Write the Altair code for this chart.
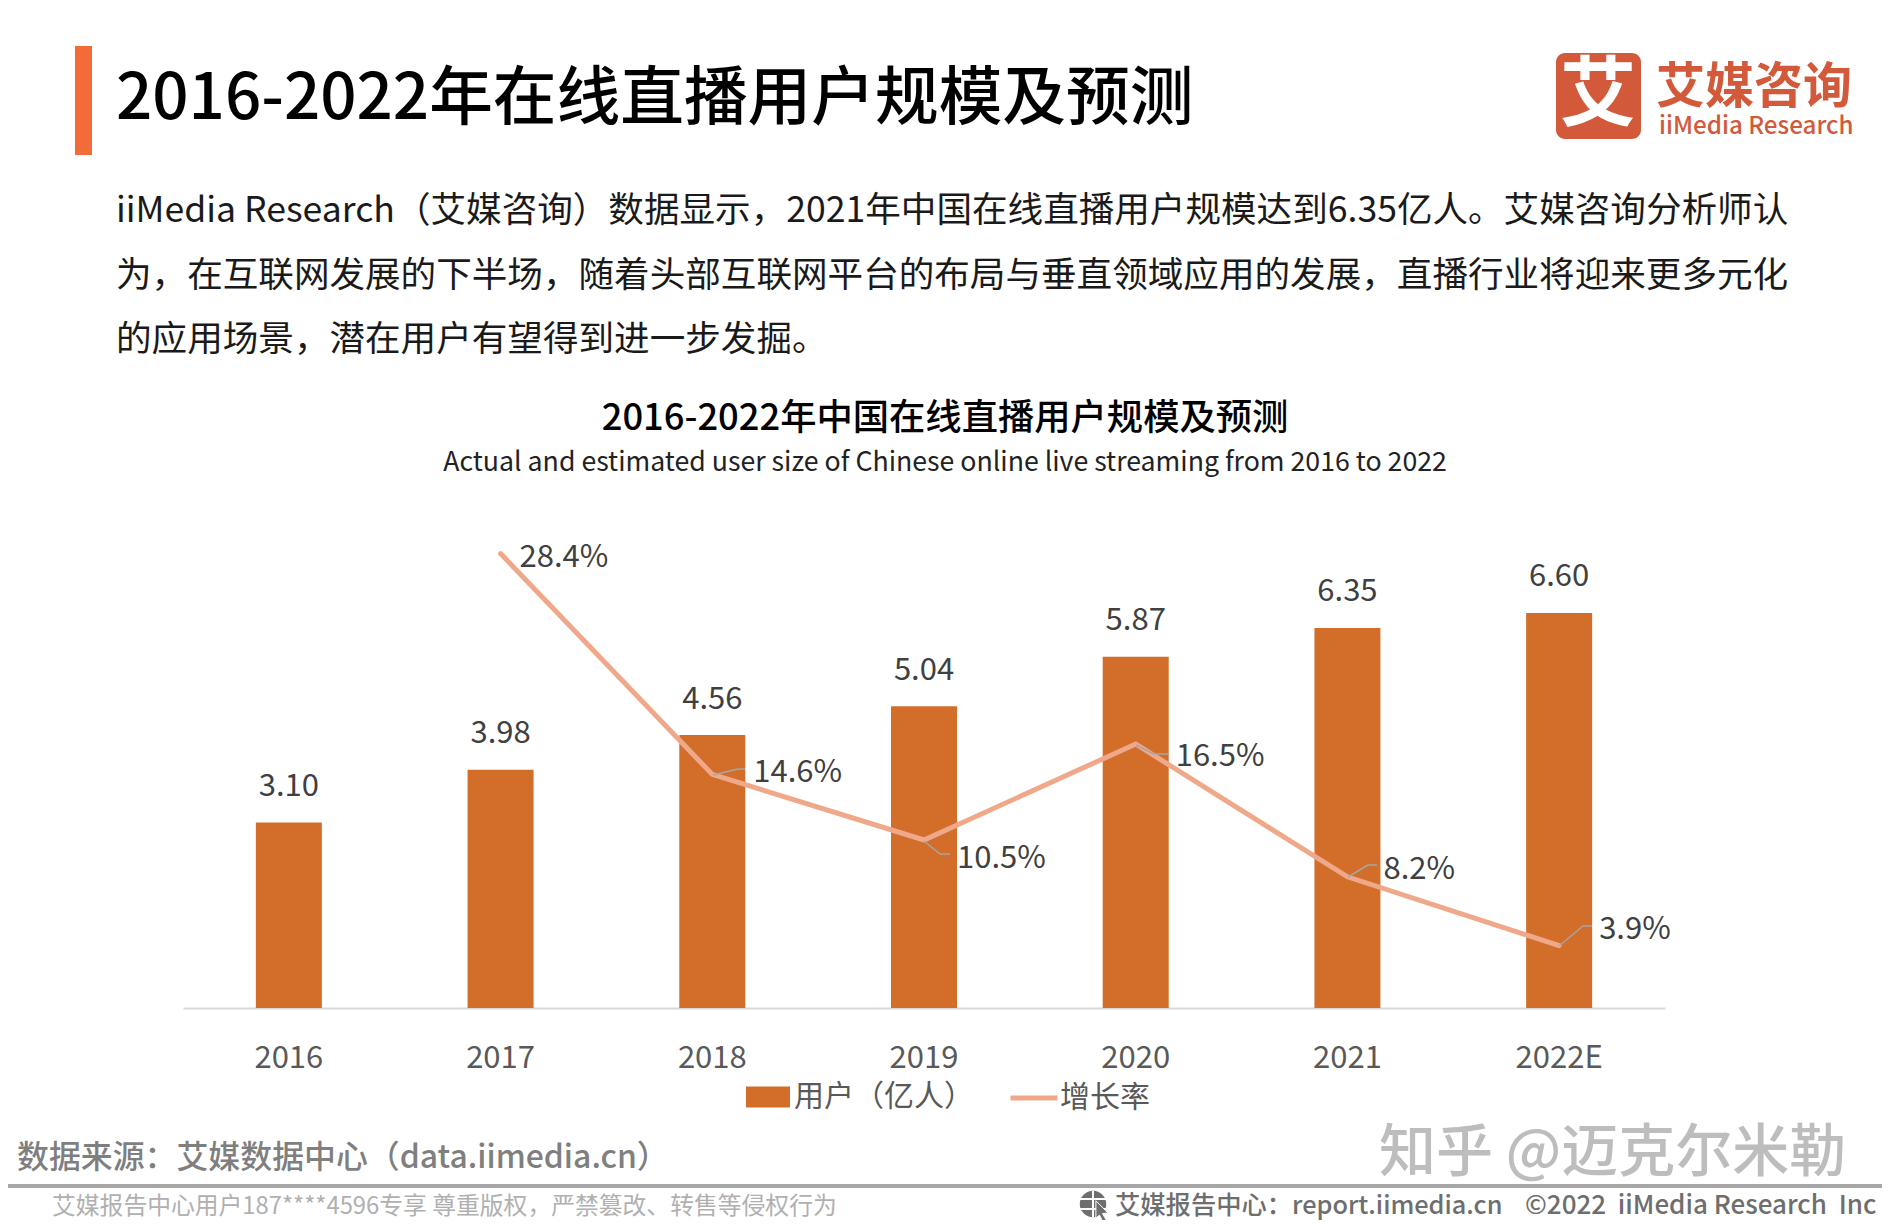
import altair as alt
import pandas as pd

categories = ["2016", "2017", "2018", "2019", "2020", "2021", "2022E"]
users = [3.10, 3.98, 4.56, 5.04, 5.87, 6.35, 6.60]
growth = [None, 0.284, 0.146, 0.105, 0.165, 0.082, 0.039]

FONT = "Noto Sans CJK SC"
M = 8
W, H = 1874, 1212
BAR = "#D26E2A"
LINE = "#EFA98A"
LOGO = "#D2593A"

df = pd.DataFrame({"year": categories, "users": users, "growth": growth})
df["s1"] = "用户（亿人）"
df["s2"] = "增长率"
line_df = df[df["growth"].notna()]
one = pd.DataFrame({"k": [0]})

x_enc = alt.X(
    "year:N", sort=categories, title=None,
    scale=alt.Scale(domain=categories, range=[183 - M, 1665 - M], paddingInner=0, paddingOuter=0),
    axis=alt.Axis(offset=1000 - H, ticks=False, labelAngle=0, labelFont=FONT, labelFontSize=31,
                  labelColor="#595959", labelPadding=35, domainColor="#d9d9d9", domainWidth=2,
                  grid=False),
)
y_users = alt.Y("users:Q", axis=None, scale=alt.Scale(domain=[0, 8.02], range=[1008 - M, 528 - M], nice=False))
y_growth = alt.Y("growth:Q", axis=None, scale=alt.Scale(domain=[0, 0.30], range=[1008 - M, 528 - M], nice=False))


def txt(t, x, y, size, color="#000000", weight=400, align="left", font=FONT):
    return alt.Chart(one).mark_text(font=font, fontSize=size, fontWeight=weight, align=align,
                                    baseline="middle", color=color).encode(
        x=alt.value(x - M), y=alt.value(y - M), text=alt.value(t))


def seg(x1, y1, x2, y2, color="#a6a6a6", width=1.5):
    return alt.Chart(one).mark_rule(color=color, strokeWidth=width).encode(
        x=alt.value(x1 - M), x2=alt.value(x2 - M), y=alt.value(y1 - M), y2=alt.value(y2 - M))


def box(x1, y1, x2, y2, color, radius=0):
    return alt.Chart(one).mark_rect(color=color, cornerRadius=radius).encode(
        x=alt.value(x1 - M), x2=alt.value(x2 - M), y=alt.value(y1 - M), y2=alt.value(y2 - M))


def glyph(shape, x, y, size, fill, stroke=None, width=0):
    return alt.Chart(one).mark_point(shape=shape, size=size, filled=True, opacity=1, fill=fill,
                                     stroke=stroke or fill, strokeWidth=width).encode(
        x=alt.value(x - M), y=alt.value(y - M))


static = [
    box(75, 46, 92, 155, "#F26B38"),
    txt("2016-2022年在线直播用户规模及预测", 116, 99.5, 63.7, weight=500),
    txt("iiMedia Research（艾媒咨询）数据显示，2021年中国在线直播用户规模达到6.35亿人。艾媒咨询分析师认", 116, 210.5, 35.6, "#1a1a1a"),
    txt("为，在互联网发展的下半场，随着头部互联网平台的布局与垂直领域应用的发展，直播行业将迎来更多元化", 116, 275.5, 35.6, "#1a1a1a"),
    txt("的应用场景，潜在用户有望得到进一步发掘。", 116, 339.5, 35.6, "#1a1a1a"),
    txt("2016-2022年中国在线直播用户规模及预测", 945, 418.5, 36.3, weight=500, align="center"),
    txt("Actual and estimated user size of Chinese online live streaming from 2016 to 2022", 945, 462.5, 26.7, "#222222", align="center"),
    # logo
    box(1556, 53, 1641, 139, LOGO, 9),
    txt("艾", 1598, 97, 76, "#ffffff", 700, "center"),
    txt("艾媒咨询", 1656, 87.5, 49, LOGO, 700),
    txt("iiMedia Research", 1659, 126.5, 24.2, LOGO, 500),
    # footer
    txt("数据来源：艾媒数据中心（data.iimedia.cn）", 17, 1157.5, 31.9, "#7f7f7f", 500),
    txt("知乎 @迈克尔米勒", 1379, 1154, 57, "#bdbdbd", 500),
    box(M, 1184, 1890, 1188, "#a6a6a6"),
    txt("艾媒报告中心用户187****4596专享 尊重版权，严禁篡改、转售等侵权行为", 52, 1207, 23.8, "#b0b0b0"),
    glyph("circle", 1093, 1204, 700, "#6e6e6e"),
    seg(1080, 1199, 1106, 1199, "#ffffff", 2),
    seg(1080, 1209, 1106, 1209, "#ffffff", 2),
    seg(1093, 1191, 1093, 1217, "#ffffff", 2),
    glyph("M-0.5,-1L0.7,0.2L0.15,0.25L0.55,0.95L0.2,1.1L-0.15,0.4L-0.5,0.7Z", 1101, 1211, 420, "#6e6e6e", "#ffffff", 1),
    txt("艾媒报告中心：report.iimedia.cn", 1115, 1206, 25.3, "#6e6e6e", 500),
    txt("©2022\u00a0\u00a0iiMedia Research\u00a0\u00a0Inc", 1525, 1206, 26, "#6e6e6e", 500),
]

bars = alt.Chart(df).mark_bar(size=66).encode(
    x=x_enc, y=y_users,
    color=alt.Color("s1:N", scale=alt.Scale(range=[BAR]),
                    legend=alt.Legend(orient="none", legendX=746 - M, legendY=1075 - M, title=None,
                                      symbolType="M-1,-0.48H1V0.48H-1Z", symbolSize=1936,
                                      labelFont=FONT, labelFontSize=30, labelColor="#595959", labelOffset=4,
                                      labelLimit=300, symbolStrokeWidth=0)),
)
bar_labels = alt.Chart(df).mark_text(font=FONT, fontSize=31, color="#404040", dy=-35.5, baseline="middle").encode(
    x=x_enc, y=y_users, text=alt.Text("users:Q", format=".2f"))
bar_layer = alt.layer(bars, bar_labels)

line = alt.Chart(line_df).mark_line(strokeWidth=5, strokeCap="round", strokeJoin="miter").encode(
    x=x_enc, y=y_growth,
    stroke=alt.Stroke("s2:N", scale=alt.Scale(range=[LINE]),
                      legend=alt.Legend(orient="none", legendX=1008 - M, legendY=1072 - M, title=None,
                                        symbolType="stroke", symbolSize=2209, symbolStrokeWidth=5,
                                        labelFont=FONT, labelFontSize=30, labelColor="#595959", labelOffset=0,
                                        labelLimit=300)),
)
label_offsets = {
    "2017": (19, 4.5), "2018": (41, -1.5), "2019": (33, 18.5),
    "2020": (40, 12.5), "2021": (36, -7), "2022E": (40, -16),
}
growth_labels = [
    alt.Chart(line_df[line_df["year"] == yr]).mark_text(
        font=FONT, fontSize=31, color="#404040", align="left", baseline="middle", dx=dx, dy=dy
    ).encode(x=x_enc, y=y_growth, text=alt.Text("growth:Q", format=".1%"))
    for yr, (dx, dy) in label_offsets.items()
]
leaders = [
    seg(713, 775, 738, 769), seg(738, 769, 745, 769),
    seg(924, 841, 940, 854), seg(940, 854, 950, 854),
    seg(1136, 745, 1154, 754), seg(1154, 754, 1168, 754),
    seg(1348, 877, 1368, 865), seg(1368, 865, 1377, 865),
    seg(1559, 946, 1583, 926), seg(1583, 926, 1592, 926),
]
line_layer = alt.layer(line, *leaders, *growth_labels)

chart = alt.layer(*static, bar_layer, line_layer).resolve_scale(y="independent").properties(
    width=W, height=H, padding=0, autosize=alt.AutoSizeParams(type="none"), background="#ffffff",
).configure_view(stroke=None)

chart.save("out.html", embed_options={"renderer": "svg", "actions": False})
